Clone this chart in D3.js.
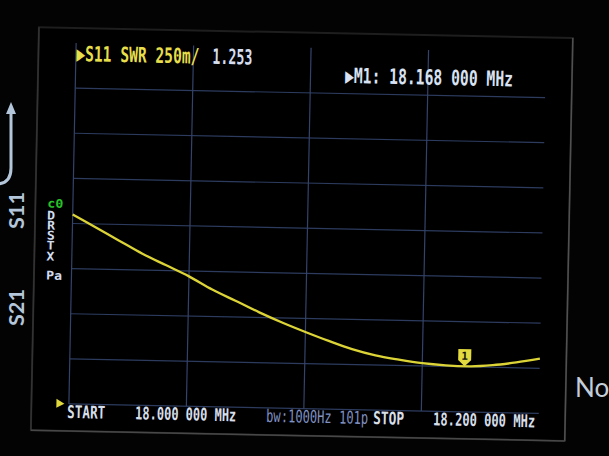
<!DOCTYPE html>
<meta charset="utf-8">
<style>
body { margin: 0; background: #000; }
svg { display: block; background: #030303; }
.mono { font-family: "DejaVu Sans Mono", monospace; }
</style>
<body>
<svg width="609" height="456"></svg>
<script src="https://cdnjs.cloudflare.com/ajax/libs/d3/7.8.5/d3.min.js"></script>
<script>

// sweep 18.000 - 18.200 MHz, S11 SWR
var freqs = [18.00, 18.01, 18.02, 18.03, 18.04, 18.05, 18.06, 18.07, 18.08, 18.09, 18.10,
             18.11, 18.12, 18.13, 18.14, 18.15, 18.16, 18.17, 18.18, 18.19, 18.20];
var swr = [2.05, 1.98, 1.91, 1.84, 1.78, 1.72, 1.65, 1.59, 1.53, 1.475, 1.425,
           1.378, 1.335, 1.303, 1.282, 1.265, 1.256, 1.253, 1.262, 1.280, 1.303];

var freqGrid = [18.00, 18.05, 18.10, 18.15];
var swrGrid = [1.00, 1.25, 1.50, 1.75, 2.00, 2.25, 2.50, 2.75];

var markerFreq = 18.168, markerSwr = 1.253;
var sideLetters = ["D", "R", "S", "T", "X", "Pa"];

var svg = d3.select("svg");

var x = d3.scaleLinear().domain([18.0, 18.2]).range([72.5, 542.5]);
var y = d3.scaleLinear().domain([1, 3]).range([404, 43]);

// the photo is a little tilted
var screen = svg.append("g").attr("transform", "rotate(1.15, 72.5, 224)");

// bezel / glass edge
screen.append("rect")
    .attr("x", 35).attr("y", 28).attr("width", 534).attr("height", 403)
    .attr("fill", "#000").attr("stroke", "#1e1e1e").attr("stroke-width", 2);
screen.append("line")
    .attr("x1", 35).attr("x2", 35).attr("y1", 28).attr("y2", 431)
    .attr("stroke", "#333").attr("stroke-width", 1.5);
screen.append("line")
    .attr("x1", 569).attr("x2", 569).attr("y1", 28).attr("y2", 431)
    .attr("stroke", "#505050").attr("stroke-width", 1.5);
screen.append("line")
    .attr("x1", 35).attr("x2", 569).attr("y1", 431).attr("y2", 431)
    .attr("stroke", "#484848").attr("stroke-width", 1.5);

// grid
screen.append("g").selectAll("line")
    .data(swrGrid)
  .enter().append("line")
    .attr("x1", x(18.0)).attr("x2", x(18.2))
    .attr("y1", function(d) { return y(d); })
    .attr("y2", function(d) { return y(d); })
    .attr("stroke", "#2c3b5e").attr("stroke-width", 1.2);

screen.append("g").selectAll("line")
    .data(freqGrid)
  .enter().append("line")
    .attr("x1", function(d) { return x(d); })
    .attr("x2", function(d) { return x(d); })
    .attr("y1", y(3)).attr("y2", y(1))
    .attr("stroke", "#34436a").attr("stroke-width", 1.2);

// trace
var line = d3.line()
    .x(function(d, i) { return x(freqs[i]); })
    .y(function(d) { return y(d); })
    .curve(d3.curveMonotoneX);

screen.append("path")
    .datum(swr)
    .attr("d", line)
    .attr("fill", "none")
    .attr("stroke", "#dcd437")
    .attr("stroke-width", 2.3);

// reference position marker
var r0 = y(1);
screen.append("path")
    .attr("d", "M60," + (r0 - 5) + "L68," + r0 + "L60," + (r0 + 4) + "Z")
    .attr("fill", "#e0d83c");

// marker 1
var mk = screen.append("g")
    .attr("transform", "translate(" + x(markerFreq) + "," + y(markerSwr) + ")");
mk.append("path")
    .attr("d", "M-6.5,-17H6.5V-6L0,0L-6.5,-6Z")
    .attr("fill", "#e2da3e");
mk.append("text")
    .attr("x", 0).attr("y", -6.5)
    .attr("text-anchor", "middle")
    .attr("font-family", "DejaVu Sans Mono")
    .attr("font-weight", "bold")
    .attr("font-size", 11)
    .attr("fill", "#111")
    .text("1");

function label(g, tx, ty, str, size, len, color, weight) {
  var t = g.append("text")
      .attr("class", "mono")
      .attr("x", tx).attr("y", ty)
      .attr("font-size", size)
      .attr("font-weight", weight || "bold")
      .attr("fill", color)
      .text(str);
  if (len) t.attr("textLength", len).attr("lengthAdjust", "spacingAndGlyphs");
  return t;
}

label(screen, 73, 61, "\u25B6S11 SWR 250m/", 21, 123, "#e6de4a");
label(screen, 209, 61, "1.253", 21, 40, "#d4def0");
label(screen, 342, 77.5, "\u25B6M1: 18.168 000 MHz", 21, 168, "#d8e2f2");

label(screen, 71, 418, "START", 17.5, 38, "#d6deea");
label(screen, 139, 418, "18.000 000 MHz", 17.5, 101, "#d6deea");
label(screen, 270, 418, "bw:1000Hz 101p", 17.5, 102, "#7f90c2", "normal");
label(screen, 377, 418, "STOP", 17.5, 31, "#d6deea");
label(screen, 437, 418, "18.200 000 MHz", 17.5, 102, "#d6deea");

label(screen, 47, 208, "c0", 12, 16, "#28c028");
var sideY = [220, 230, 240, 250, 261, 280];
sideLetters.forEach(function(s, i) {
  label(screen, 47, sideY[i], s, 12, s.length * 8, "#d0dcf0");
});

// case printing outside the screen
svg.append("path")
    .attr("d", "M11,112V168Q11,184 -4,184")
    .attr("fill", "none").attr("stroke", "#b4c6da").attr("stroke-width", 3);
svg.append("path")
    .attr("d", "M11,102L16,114L6,114Z")
    .attr("fill", "#b4c6da");

svg.append("text")
    .attr("transform", "translate(24,229) rotate(-90)")
    .attr("font-family", "Lato, sans-serif")
    .attr("font-weight", "bold")
    .attr("font-size", 21)
    .attr("fill", "#b4c6da")
    .attr("textLength", 37).attr("lengthAdjust", "spacingAndGlyphs")
    .text("S11");
svg.append("text")
    .attr("transform", "translate(24,326) rotate(-90)")
    .attr("font-family", "Lato, sans-serif")
    .attr("font-weight", "bold")
    .attr("font-size", 21)
    .attr("fill", "#b4c6da")
    .attr("textLength", 37).attr("lengthAdjust", "spacingAndGlyphs")
    .text("S21");

svg.append("text")
    .attr("x", 575).attr("y", 397)
    .attr("font-family", "Lato, sans-serif")
    .attr("font-size", 26)
    .attr("fill", "#c4cedb")
    .text("No");

</script>
